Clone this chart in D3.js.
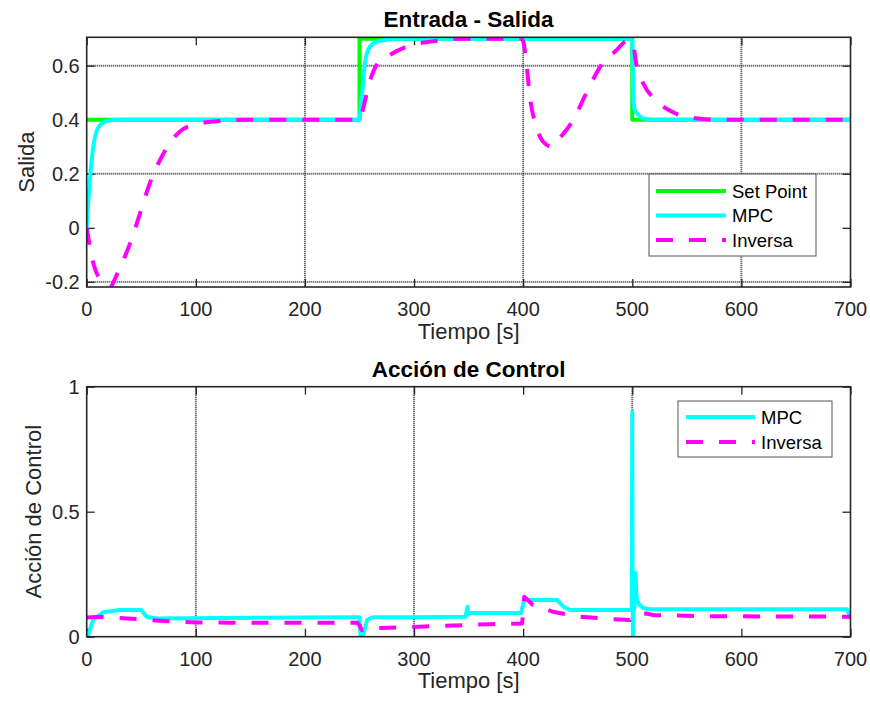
<!DOCTYPE html>
<html lang="es">
<head>
    <meta charset="UTF-8">
    <title>Entrada - Salida</title>
    <script src="https://cdn.jsdelivr.net/npm/d3@7"></script>
    <style>
        body { margin: 0; background: #fff; }
        text { font-family: "Liberation Sans", Arial, sans-serif; fill: #262626; }
    </style>
</head>
<body>
<script>
    // tiempos [s] y valores
    var tSetPoint = [0, 250, 250.01, 500, 500.01, 700]
    var setPoint = [0.4, 0.4, 0.7, 0.7, 0.4, 0.4]

    var tMpcSalida = [0, 1.5, 3, 6, 10.5, 18.5, 30, 250, 251, 252, 255, 259.5, 267, 285, 499, 500, 501, 502, 505, 510, 520, 700]
    var mpcSalida = [0, 0.1, 0.18, 0.3, 0.37, 0.395, 0.4, 0.4, 0.44, 0.48, 0.61, 0.67, 0.69, 0.7, 0.7, 0.68, 0.49, 0.44, 0.42, 0.405, 0.4, 0.4]

    var tInvSalida = [0, 6, 12, 17, 21, 28, 35, 40, 49, 58, 69, 85, 97, 122, 150, 250, 252, 255, 259, 267, 278, 293, 317, 350, 398, 400, 403, 406, 412, 418, 426, 433, 446, 458, 473, 485, 495, 500, 504, 510, 522, 534, 550, 580, 700]
    var invSalida = [0, -0.13, -0.19, -0.21, -0.22, -0.17, -0.106, -0.055, 0.055, 0.167, 0.265, 0.355, 0.38, 0.395, 0.4, 0.4, 0.42, 0.47, 0.535, 0.61, 0.64, 0.67, 0.69, 0.7, 0.7, 0.69, 0.61, 0.49, 0.375, 0.32, 0.3, 0.33, 0.4, 0.5, 0.61, 0.655, 0.69, 0.69, 0.6, 0.535, 0.47, 0.435, 0.41, 0.4, 0.4]

    var tMpcControl = [0, 1, 3, 6, 15, 30, 50, 55, 64, 248, 250, 251, 253, 257, 262, 300, 347, 349, 350, 351, 356, 398, 401, 431, 437, 443, 499.5, 500, 500.3, 500.6, 501, 502, 503, 504, 505, 507, 510, 516, 530, 697, 700]
    var mpcControl = [0, 0, 0.03, 0.067, 0.098, 0.107, 0.107, 0.08, 0.073, 0.078, 0.078, 0, 0, 0.067, 0.078, 0.078, 0.08, 0.12, 0.09, 0.095, 0.095, 0.095, 0.147, 0.147, 0.12, 0.107, 0.107, 0.9, 0.2, 0, 0.1, 0.12, 0.255, 0.15, 0.14, 0.125, 0.115, 0.11, 0.11, 0.11, 0.07]

    var tInvControl = [0, 12, 37, 67, 101, 131, 248, 250, 252, 256, 269, 305, 369, 399, 400, 401, 409, 427, 452, 482, 498, 500, 505, 513, 519, 560, 700]
    var invControl = [0.077, 0.08, 0.073, 0.064, 0.057, 0.056, 0.056, 0.045, 0.027, 0.03, 0.035, 0.04, 0.05, 0.053, 0.1, 0.16, 0.127, 0.1, 0.08, 0.07, 0.067, 0.08, 0.09, 0.093, 0.087, 0.082, 0.08]

    var xTicks = [0, 100, 200, 300, 400, 500, 600, 700]
    var yTicksSalida = [-0.2, 0, 0.2, 0.4, 0.6]
    var yTicksControl = [0, 0.5, 1]

    var width = 870
    var height = 704
    var verde = '#00ff00', cian = '#00ffff', magenta = '#ff00ff'
    var ejes = '#262626'

    var svg = d3.select('body')
        .append('svg')
        .attr('width', width)
        .attr('height', height)

    function puntos(t, v) {
        return t.map(function (d, i) { return [d, v[i]] })
    }

    function panel(cfg) {
        var x = d3.scaleLinear().domain([0, 700]).range([cfg.left, cfg.right])
        var y = d3.scaleLinear().domain(cfg.yDomain).range([cfg.bottom, cfg.top])
        var g = svg.append('g')

        g.append('clipPath').attr('id', cfg.id)
            .append('rect')
            .attr('x', cfg.left).attr('y', cfg.top)
            .attr('width', cfg.right - cfg.left).attr('height', cfg.bottom - cfg.top)

        // rejilla
        g.selectAll('.gx').data(cfg.gridX).enter().append('line')
            .attr('x1', function (d) { return x(d) }).attr('x2', function (d) { return x(d) })
            .attr('y1', cfg.top).attr('y2', cfg.bottom)
            .attr('stroke', '#3c3c3c').attr('stroke-width', 1.9).attr('stroke-dasharray', '1,1')
        g.selectAll('.gy').data(cfg.gridY).enter().append('line')
            .attr('y1', function (d) { return y(d) }).attr('y2', function (d) { return y(d) })
            .attr('x1', cfg.left).attr('x2', cfg.right)
            .attr('stroke', '#3c3c3c').attr('stroke-width', 1.9).attr('stroke-dasharray', '1,1')

        // ejes con ticks hacia dentro en los cuatro lados
        var ax = [
            { axis: d3.axisBottom(x).tickValues(xTicks).tickFormat(''), tr: 'translate(0,' + cfg.bottom + ')', lab: true },
            { axis: d3.axisTop(x).tickValues(xTicks).tickFormat(''), tr: 'translate(0,' + cfg.top + ')' },
            { axis: d3.axisLeft(y).tickValues(cfg.yTicks).tickFormat(''), tr: 'translate(' + cfg.left + ',0)' },
            { axis: d3.axisRight(y).tickValues(cfg.yTicks).tickFormat(''), tr: 'translate(' + cfg.right + ',0)' }
        ]
        ax.forEach(function (a) {
            var s = g.append('g').attr('transform', a.tr).call(a.axis.tickSizeInner(-8).tickSizeOuter(0))
            s.select('.domain').remove()
            s.selectAll('line').attr('stroke', ejes).attr('stroke-width', 1.3)
        })

        g.selectAll('.xl').data(xTicks).enter().append('text')
            .attr('x', function (d) { return x(d) })
            .attr('y', cfg.bottom + 29)
            .attr('text-anchor', 'middle')
            .style('font-size', '20px')
            .text(function (d) { return d })
        g.selectAll('.yl').data(cfg.yTicks).enter().append('text')
            .attr('x', cfg.left - 7)
            .attr('y', function (d) { return y(d) })
            .attr('dy', '0.36em')
            .attr('text-anchor', 'end')
            .style('font-size', '20px')
            .text(function (d) { return d })

        var lineas = g.append('g').attr('clip-path', 'url(#' + cfg.id + ')')
        cfg.series.forEach(function (s) {
            var gen = d3.line()
                .x(function (d) { return x(d[0]) })
                .y(function (d) { return y(d[1]) })
                .curve(s.curve || d3.curveLinear)
            lineas.append('path')
                .attr('d', gen(puntos(s.t, s.v)))
                .attr('fill', 'none')
                .attr('stroke', s.color)
                .attr('stroke-width', 4)
                .attr('stroke-linejoin', 'round')
                .attr('stroke-dasharray', s.dash || null)
        })

        g.append('rect')
            .attr('x', cfg.left).attr('y', cfg.top)
            .attr('width', cfg.right - cfg.left).attr('height', cfg.bottom - cfg.top)
            .attr('fill', 'none').attr('stroke', ejes).attr('stroke-width', 1.6)

        g.append('text')
            .attr('x', (cfg.left + cfg.right) / 2).attr('y', cfg.top - 10)
            .attr('text-anchor', 'middle')
            .style('font-size', '22.5px').style('font-weight', 'bold')
            .style('fill', '#000')
            .text(cfg.title)
        g.append('text')
            .attr('x', (cfg.left + cfg.right) / 2).attr('y', cfg.bottom + 51.5)
            .attr('text-anchor', 'middle')
            .style('font-size', '22px')
            .text('Tiempo [s]')
        g.append('text')
            .attr('transform', 'translate(' + cfg.ylabelX + ',' + (cfg.top + cfg.bottom) / 2 + ') rotate(-90)')
            .attr('text-anchor', 'middle')
            .style('font-size', '22px')
            .text(cfg.ylabel)

        // leyenda
        var L = cfg.legend
        var lg = g.append('g')
        lg.append('rect')
            .attr('x', L.x0).attr('y', L.y0)
            .attr('width', L.x1 - L.x0).attr('height', L.y1 - L.y0)
            .attr('fill', '#fff').attr('stroke', '#555').attr('stroke-width', 1)
        L.items.forEach(function (it, i) {
            var yy = L.yFirst + i * L.step
            lg.append('line')
                .attr('x1', L.lx0).attr('x2', L.lx1).attr('y1', yy).attr('y2', yy)
                .attr('stroke', it.color).attr('stroke-width', 4)
                .attr('stroke-dasharray', it.dash || null)
            lg.append('text')
                .attr('x', L.lx1 + 6).attr('y', yy).attr('dy', '0.36em')
                .style('font-size', '18.5px')
                .style('fill', '#000')
                .text(it.name)
        })
    }

    var guion = '17,16'

    panel({
        id: 'clipSalida', left: 86.7, right: 850.5, top: 37.3, bottom: 287,
        yDomain: [-0.219, 0.705], yTicks: yTicksSalida,
        gridX: [200, 400, 600], gridY: [-0.2, 0.2, 0.6],
        title: 'Entrada - Salida', ylabel: 'Salida', ylabelX: 34,
        series: [
            { t: tSetPoint, v: setPoint, color: verde },
            { t: tMpcSalida, v: mpcSalida, color: cian, curve: d3.curveMonotoneX },
            { t: tInvSalida, v: invSalida, color: magenta, dash: guion, curve: d3.curveMonotoneX }
        ],
        legend: {
            x0: 649, x1: 816, y0: 174, y1: 256, lx0: 656, lx1: 726, yFirst: 191, step: 24.5,
            items: [
                { name: 'Set Point', color: verde },
                { name: 'MPC', color: cian },
                { name: 'Inversa', color: magenta, dash: guion }
            ]
        }
    })

    panel({
        id: 'clipControl', left: 86.7, right: 850.5, top: 386.7, bottom: 636.7,
        yDomain: [0, 1], yTicks: yTicksControl,
        gridX: [100, 300, 500], gridY: [],
        title: 'Acción de Control', ylabel: 'Acción de Control', ylabelX: 41,
        series: [
            { t: tMpcControl, v: mpcControl, color: cian },
            { t: tInvControl, v: invControl, color: magenta, dash: guion }
        ],
        legend: {
            x0: 678, x1: 832, y0: 401, y1: 457, lx0: 686, lx1: 755, yFirst: 417, step: 25,
            items: [
                { name: 'MPC', color: cian },
                { name: 'Inversa', color: magenta, dash: guion }
            ]
        }
    })
</script>
</body>
</html>
